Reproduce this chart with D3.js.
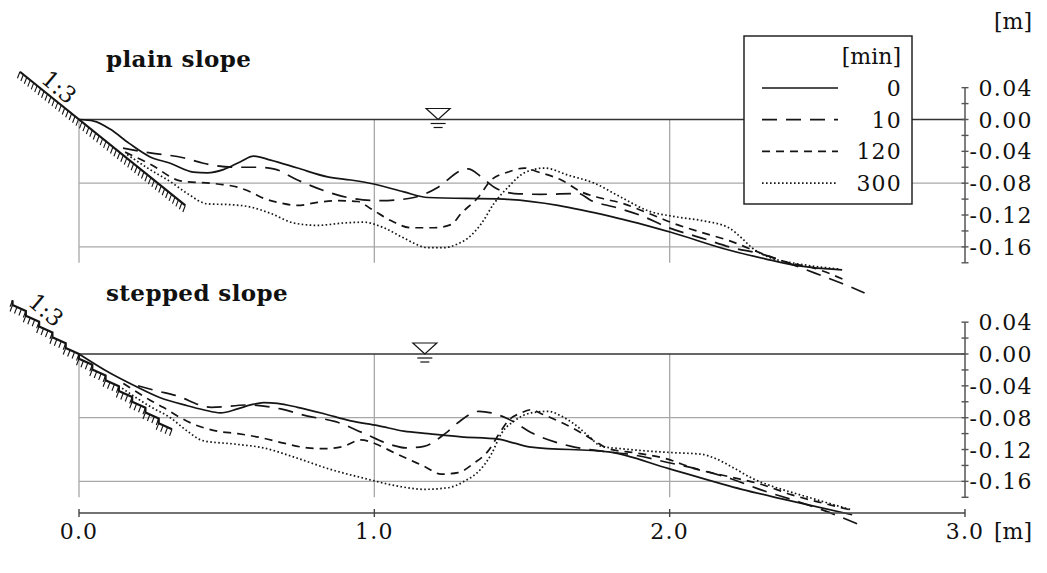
<!DOCTYPE html>
<html>
<head>
<meta charset="utf-8">
<script src="https://cdn.jsdelivr.net/npm/d3@7"></script>
<style>
  html, body { margin: 0; padding: 0; background: #fff; }
  svg { display: block; }
  text { font-family: "DejaVu Serif", serif; fill: #111; }
</style>
</head>
<body>
<svg id="chart" width="1047" height="573"></svg>
<script>
// Bed profiles [x (m), z (m)] after 0, 10, 120 and 300 minutes of wave action.
const timesMin = ["0", "10", "120", "300"];

const plain0 = [[0,0],[0.05,-0.002],[0.105,-0.012],[0.17,-0.030],[0.241,-0.047],[0.309,-0.055],[0.387,-0.066],[0.435,-0.067],[0.489,-0.063],[0.547,-0.053],[0.591,-0.046],[0.649,-0.051],[0.74,-0.061],[0.842,-0.072],[0.92,-0.076],[0.998,-0.081],[1.10,-0.091],[1.182,-0.098],[1.44,-0.100],[1.803,-0.122],[2.007,-0.142],[2.20,-0.164],[2.323,-0.175],[2.438,-0.184],[2.584,-0.189]];
const plain10 = [[0.149,-0.036],[0.241,-0.042],[0.353,-0.048],[0.421,-0.055],[0.537,-0.060],[0.604,-0.060],[0.659,-0.062],[0.74,-0.076],[0.842,-0.091],[0.91,-0.098],[1.022,-0.102],[1.134,-0.098],[1.216,-0.085],[1.294,-0.064],[1.317,-0.062],[1.362,-0.072],[1.406,-0.085],[1.474,-0.093],[1.565,-0.094],[1.691,-0.093],[1.735,-0.102],[1.813,-0.110],[1.905,-0.121],[1.997,-0.136],[2.109,-0.149],[2.211,-0.161],[2.312,-0.169],[2.414,-0.182],[2.492,-0.193],[2.584,-0.206],[2.66,-0.218]];
const plain120 = [[0.156,-0.041],[0.241,-0.056],[0.343,-0.077],[0.469,-0.081],[0.537,-0.085],[0.581,-0.091],[0.625,-0.099],[0.683,-0.105],[0.74,-0.108],[0.808,-0.104],[0.88,-0.102],[0.944,-0.103],[0.988,-0.112],[1.056,-0.127],[1.124,-0.136],[1.202,-0.136],[1.26,-0.132],[1.294,-0.118],[1.351,-0.098],[1.396,-0.076],[1.453,-0.066],[1.508,-0.061],[1.555,-0.066],[1.633,-0.076],[1.701,-0.091],[1.769,-0.099],[1.837,-0.105],[1.929,-0.118],[2.017,-0.131],[2.109,-0.142],[2.20,-0.152],[2.289,-0.165],[2.404,-0.180],[2.492,-0.187],[2.60,-0.203]];
const plain300 = [[0.163,-0.044],[0.241,-0.063],[0.309,-0.078],[0.367,-0.093],[0.435,-0.106],[0.513,-0.107],[0.581,-0.110],[0.649,-0.118],[0.727,-0.130],[0.808,-0.133],[0.896,-0.130],[0.964,-0.129],[1.032,-0.136],[1.10,-0.149],[1.182,-0.161],[1.236,-0.161],[1.284,-0.156],[1.317,-0.149],[1.362,-0.131],[1.406,-0.105],[1.453,-0.085],[1.508,-0.067],[1.576,-0.061],[1.657,-0.070],[1.745,-0.080],[1.837,-0.098],[1.929,-0.115],[2.017,-0.122],[2.109,-0.127],[2.20,-0.136],[2.244,-0.149],[2.278,-0.161],[2.323,-0.171],[2.414,-0.180],[2.482,-0.184],[2.577,-0.188]];

const stepped0 = [[0,0],[0.105,-0.024],[0.183,-0.039],[0.275,-0.055],[0.367,-0.065],[0.421,-0.070],[0.479,-0.074],[0.537,-0.069],[0.581,-0.064],[0.625,-0.061],[0.672,-0.062],[0.74,-0.067],[0.829,-0.075],[0.92,-0.084],[1.012,-0.090],[1.10,-0.097],[1.182,-0.100],[1.294,-0.104],[1.419,-0.107],[1.474,-0.112],[1.531,-0.117],[1.793,-0.123],[1.997,-0.144],[2.244,-0.170],[2.38,-0.182],[2.618,-0.202]];
const stepped10 = [[0.20,-0.040],[0.26,-0.046],[0.326,-0.052],[0.448,-0.067],[0.574,-0.064],[0.683,-0.069],[0.774,-0.078],[0.869,-0.085],[0.961,-0.099],[1.056,-0.114],[1.107,-0.118],[1.168,-0.116],[1.243,-0.099],[1.284,-0.086],[1.355,-0.072],[1.396,-0.074],[1.45,-0.081],[1.538,-0.100],[1.667,-0.116],[1.769,-0.122],[1.881,-0.127],[1.99,-0.136],[2.098,-0.145],[2.21,-0.157],[2.312,-0.171],[2.431,-0.185],[2.54,-0.199],[2.645,-0.215]];
const stepped120 = [[0.15,-0.037],[0.241,-0.058],[0.285,-0.067],[0.343,-0.080],[0.387,-0.088],[0.469,-0.097],[0.537,-0.100],[0.615,-0.105],[0.693,-0.112],[0.774,-0.118],[0.829,-0.119],[0.896,-0.116],[0.954,-0.108],[1.012,-0.114],[1.056,-0.122],[1.114,-0.132],[1.168,-0.141],[1.226,-0.151],[1.284,-0.149],[1.338,-0.137],[1.385,-0.122],[1.423,-0.100],[1.453,-0.084],[1.497,-0.074],[1.531,-0.070],[1.565,-0.075],[1.633,-0.086],[1.691,-0.097],[1.745,-0.109],[1.793,-0.119],[1.881,-0.124],[1.983,-0.131],[2.085,-0.144],[2.20,-0.154],[2.312,-0.164],[2.414,-0.177],[2.526,-0.188],[2.625,-0.197]];
const stepped300 = [[0.146,-0.043],[0.241,-0.066],[0.309,-0.080],[0.367,-0.097],[0.421,-0.109],[0.523,-0.113],[0.625,-0.118],[0.74,-0.131],[0.852,-0.145],[0.964,-0.156],[1.08,-0.166],[1.168,-0.170],[1.25,-0.168],[1.304,-0.160],[1.362,-0.144],[1.396,-0.126],[1.43,-0.100],[1.474,-0.084],[1.531,-0.074],[1.589,-0.072],[1.633,-0.078],[1.677,-0.088],[1.725,-0.103],[1.769,-0.116],[1.837,-0.119],[1.929,-0.122],[2.017,-0.124],[2.109,-0.126],[2.153,-0.131],[2.221,-0.144],[2.278,-0.156],[2.346,-0.166],[2.424,-0.175],[2.516,-0.185],[2.618,-0.196]];

// Axis ticks
const zLabelValues = [0.04, 0.00, -0.04, -0.08, -0.12, -0.16];
const zLabels = ["0.04", "0.00", "-0.04", "-0.08", "-0.12", "-0.16"];
const zMinorTicks = [0.04, 0.02, 0.00, -0.02, -0.04, -0.06, -0.08, -0.10, -0.12, -0.14, -0.16, -0.18];
const zGrid = [-0.08, -0.16];
const xTickValues = [0, 1, 2, 3];
const xLabels = ["0.0", "1.0", "2.0", "3.0"];
const xGrid = [0, 1, 2];

// Slope geometry (1:3) and still water marker positions
const slopeRatio = 1 / 3 * 0.9;   // drawn gradient of the toe
const plainToe = [-0.2, 0.36];
const steppedToe = [-0.225, 0.315];
const stepLength = 0.045, stepRiser = 0.006;
const waterMarkX = { plain: 1.216, stepped: 1.171 };

// ---------- drawing ----------
const svg = d3.select("#chart");
const x = d3.scaleLinear().domain([0, 3]).range([79, 965]);
const PXM = 796;
const FS = "22px";
const lineStyles = [
  { dash: null },
  { dash: "15,9" },
  { dash: "8,6" },
  { dash: "1.6,2.4" }
];

const panels = [
  { title: "plain slope", zero: 119.5, kind: "plain", series: [plain0, plain10, plain120, plain300] },
  { title: "stepped slope", zero: 354, kind: "stepped", series: [stepped0, stepped10, stepped120, stepped300] }
];

const INK = "#151515";

panels.forEach(p => {
  const y = d3.scaleLinear().domain([0.04, -0.18])
    .range([p.zero - 0.04 * PXM, p.zero + 0.18 * PXM]);
  const g = svg.append("g");

  // grid
  g.selectAll(".vg").data(xGrid).join("line")
    .attr("x1", d => x(d)).attr("x2", d => x(d))
    .attr("y1", y(0)).attr("y2", y(-0.18))
    .attr("stroke", "#a8a8a8").attr("stroke-width", 1.3);
  g.selectAll(".hg").data(zGrid).join("line")
    .attr("x1", x(0)).attr("x2", x(3))
    .attr("y1", d => y(d)).attr("y2", d => y(d))
    .attr("stroke", "#a8a8a8").attr("stroke-width", 1.3);
  // still water level
  g.append("line").attr("x1", x(0)).attr("x2", x(3))
    .attr("y1", y(0)).attr("y2", y(0))
    .attr("stroke", "#333").attr("stroke-width", 1.4);

  // right axis
  g.append("line").attr("x1", x(3)).attr("x2", x(3))
    .attr("y1", y(0.04)).attr("y2", y(-0.18))
    .attr("stroke", "#555").attr("stroke-width", 1.5);
  g.selectAll(".mt").data(zMinorTicks).join("line")
    .attr("x1", x(3) - 3.5).attr("x2", x(3) + 3.5)
    .attr("y1", d => y(d)).attr("y2", d => y(d))
    .attr("stroke", "#555").attr("stroke-width", 1.4);
  g.selectAll(".zl").data(zLabelValues).join("text")
    .attr("x", 1033).attr("y", d => y(d) + 8)
    .attr("text-anchor", "end")
    .style("font-size", FS).style("letter-spacing", "1.4px")
    .text((d, i) => zLabels[i]);

  // title
  g.append("text").attr("x", 106).attr("y", p.zero - 53)
    .style("font-size", "23px").style("font-weight", "bold").style("letter-spacing", "0.4px")
    .text(p.title);

  // water level marker
  const wx = x(waterMarkX[p.kind]), wy = y(0);
  g.append("path")
    .attr("d", `M${wx - 12},${wy - 11}L${wx + 12},${wy - 11}L${wx},${wy}Z`)
    .attr("fill", "#fff").attr("stroke", INK).attr("stroke-width", 1.2);
  g.append("line").attr("x1", wx - 7.5).attr("x2", wx + 7.5).attr("y1", wy + 4).attr("y2", wy + 4)
    .attr("stroke", INK).attr("stroke-width", 1.2);
  g.append("line").attr("x1", wx - 4.5).attr("x2", wx + 4.5).attr("y1", wy + 8).attr("y2", wy + 8)
    .attr("stroke", INK).attr("stroke-width", 1.2);

  // slope outline
  let pts;
  if (p.kind === "plain") {
    pts = plainToe.map(v => [x(v), y(-slopeRatio * v)]);
  } else {
    pts = [];
    const k0 = Math.round(steppedToe[0] / stepLength), k1 = Math.round(steppedToe[1] / stepLength);
    for (let k = k0; k <= k1; k++) {
      const xs = k * stepLength, zs = -slopeRatio * xs;
      pts.push([x(xs), y(zs)]);
      pts.push([x(xs), y(zs - stepRiser)]);
    }
    pts.pop();
  }
  // hatching on the ground side
  const hatch = [];
  const sp = 4.4;
  for (let i = 0; i < pts.length - 1; i++) {
    const [ax, ay] = pts[i], [bx, by] = pts[i + 1];
    const L = Math.hypot(bx - ax, by - ay);
    const n = Math.floor(L / sp);
    for (let j = 0; j <= n; j++) {
      const t = n ? j / n : 0;
      const px = ax + (bx - ax) * t, py = ay + (by - ay) * t;
      hatch.push(`M${px},${py}l-2.5,6.5`);
    }
  }
  g.append("path").attr("d", hatch.join(""))
    .attr("stroke", INK).attr("stroke-width", 1.1).attr("fill", "none");
  g.append("path").attr("d", d3.line()(pts))
    .attr("stroke", INK).attr("stroke-width", 2.2).attr("fill", "none")
    .attr("stroke-linejoin", "miter");

  // slope label
  const lx = p.kind === "plain" ? 59 : 46;
  const ly = p.kind === "plain" ? 87 : 310;
  g.append("text").attr("transform", `translate(${lx},${ly}) rotate(40)`)
    .attr("text-anchor", "middle").attr("dy", "0.35em")
    .style("font-size", "23px")
    .text("1:3");

  // bed profiles
  const line = d3.line().x(d => x(d[0])).y(d => y(d[1])).curve(d3.curveMonotoneX);
  p.series.forEach((s, i) => {
    g.append("path").attr("d", line(s))
      .attr("fill", "none").attr("stroke", INK).attr("stroke-width", 1.7)
      .attr("stroke-dasharray", lineStyles[i].dash);
  });
});

// bottom x axis
const ax = svg.append("g");
const axY = 513;
ax.append("line").attr("x1", x(0)).attr("x2", x(3)).attr("y1", axY).attr("y2", axY)
  .attr("stroke", "#444").attr("stroke-width", 1.6);
ax.selectAll(".xt").data(xTickValues).join("line")
  .attr("x1", d => x(d)).attr("x2", d => x(d)).attr("y1", axY - 4).attr("y2", axY + 4)
  .attr("stroke", "#444").attr("stroke-width", 1.4);
ax.selectAll(".xl").data(xTickValues).join("text")
  .attr("x", d => x(d)).attr("y", 539).attr("text-anchor", "middle")
  .style("font-size", FS).style("letter-spacing", "1.2px")
  .text((d, i) => xLabels[i]);
ax.append("text").attr("x", 1032).attr("y", 539).attr("text-anchor", "end")
  .style("font-size", FS).text("[m]");
svg.append("text").attr("x", 1032).attr("y", 29).attr("text-anchor", "end")
  .style("font-size", FS).text("[m]");

// legend
const lg = svg.append("g");
lg.append("rect").attr("x", 744).attr("y", 36).attr("width", 168).attr("height", 168)
  .attr("fill", "#fff").attr("stroke", INK).attr("stroke-width", 1.4);
lg.append("text").attr("x", 901).attr("y", 64).attr("text-anchor", "end")
  .style("font-size", FS).text("[min]");
timesMin.forEach((t, i) => {
  const ry = 88 + i * 31.7;
  lg.append("line").attr("x1", 762).attr("x2", 838).attr("y1", ry).attr("y2", ry)
    .attr("stroke", INK).attr("stroke-width", 1.7)
    .attr("stroke-dasharray", lineStyles[i].dash);
  lg.append("text").attr("x", 902).attr("y", ry + 8).attr("text-anchor", "end")
    .style("font-size", FS).style("letter-spacing", "1.2px").text(t);
});
</script>
</body>
</html>
